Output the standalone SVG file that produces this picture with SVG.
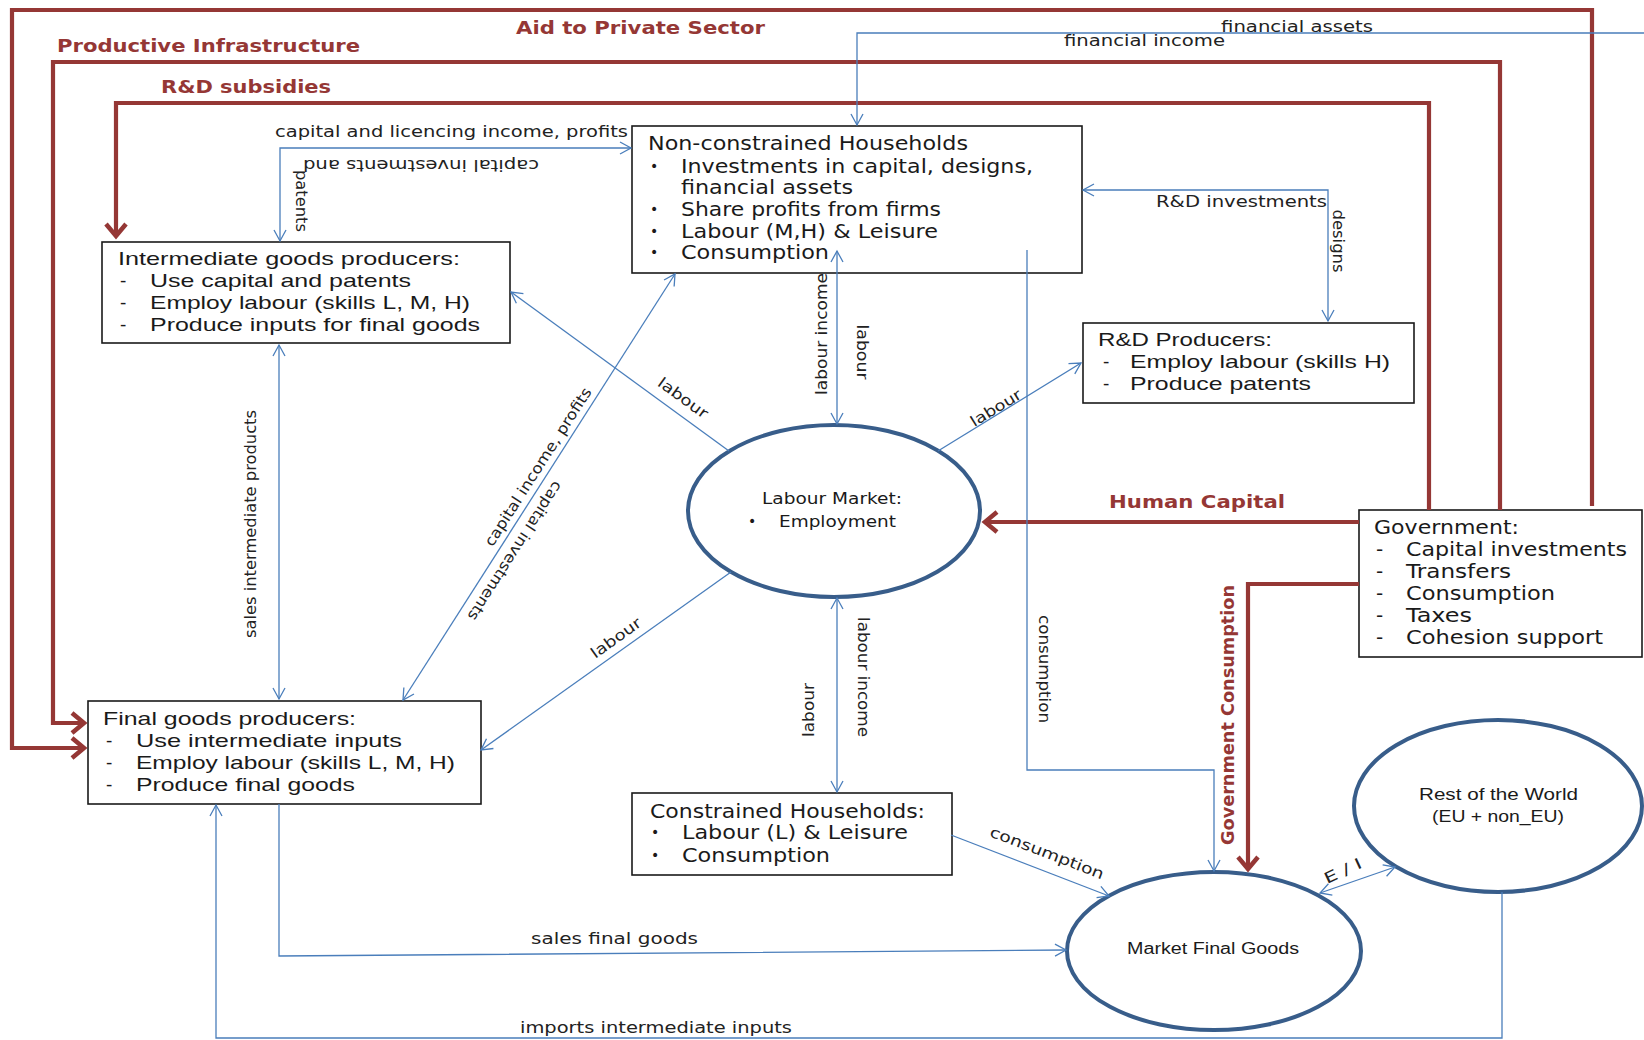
<svg xmlns="http://www.w3.org/2000/svg" width="1644" height="1040" viewBox="0 0 1644 1040">
<style>
.box{fill:#fff;stroke:#1a1a1a;stroke-width:1.6}
.ell{fill:#fff;stroke:#385D8A;stroke-width:4}
.t{font-family:"DejaVu Sans",Verdana,sans-serif;font-size:20px;fill:#1a1a1a}
.b{font-family:"DejaVu Sans",Verdana,sans-serif;font-size:14px;fill:#1a1a1a}
.c{font-family:"Liberation Sans",Arial,sans-serif;font-size:19px;fill:#1a1a1a}
.s{font-family:"DejaVu Sans",Verdana,sans-serif;font-size:15px;fill:#1a1a1a}
.sc{font-family:"Liberation Sans",Arial,sans-serif;font-size:16px;fill:#1a1a1a}
.lbl{font-family:"DejaVu Sans",Verdana,sans-serif;font-size:15px;fill:#222}
.red{font-family:"DejaVu Sans",Verdana,sans-serif;font-weight:bold;font-size:18px;fill:#953735}
.bl{fill:none;stroke:#4A7EBB;stroke-width:1.3}
.rd{fill:none;stroke:#953735;stroke-width:4.2}
</style>
<defs>
<marker id="ba" markerUnits="userSpaceOnUse" viewBox="-14 -8 16 16" markerWidth="16" markerHeight="16" refX="0" refY="0" orient="auto-start-reverse" overflow="visible">
<path d="M-11,-6 L0,0 L-11,6" fill="none" stroke="#4A7EBB" stroke-width="1.3"/>
</marker>
<marker id="ra" markerUnits="userSpaceOnUse" viewBox="-18 -14 24 28" markerWidth="24" markerHeight="28" refX="0" refY="0" orient="auto" overflow="visible">
<path d="M-12,-10 L0,0 L-12,10" fill="none" stroke="#953735" stroke-width="4.5"/>
</marker>
</defs>
<rect width="1644" height="1040" fill="#fff"/>

<g id="non-constrained-households">
<rect class="box" x="632" y="126" width="450" height="147"/>
<text class="t" x="648" y="150" textLength="320" lengthAdjust="spacingAndGlyphs">Non-constrained Households</text>
<text class="b" x="650" y="171">•</text>
<text class="t" x="681" y="173" textLength="352" lengthAdjust="spacingAndGlyphs">Investments in capital, designs,</text>
<text class="t" x="681" y="194" textLength="172" lengthAdjust="spacingAndGlyphs">financial assets</text>
<text class="b" x="650" y="214">•</text>
<text class="t" x="681" y="216" textLength="260" lengthAdjust="spacingAndGlyphs">Share profits from firms</text>
<text class="b" x="650" y="236">•</text>
<text class="t" x="681" y="238" textLength="257" lengthAdjust="spacingAndGlyphs">Labour (M,H) &amp; Leisure</text>
<text class="b" x="650" y="257">•</text>
<text class="t" x="681" y="259" textLength="148" lengthAdjust="spacingAndGlyphs">Consumption</text>
</g>

<g id="intermediate-goods-producers">
<rect class="box" x="102" y="242" width="408" height="101"/>
<text class="c" x="118" y="265" textLength="342" lengthAdjust="spacingAndGlyphs">Intermediate goods producers:</text>
<text class="c" x="120" y="287">-</text>
<text class="c" x="150" y="287" textLength="261" lengthAdjust="spacingAndGlyphs">Use capital and patents</text>
<text class="c" x="120" y="309">-</text>
<text class="c" x="150" y="309" textLength="320" lengthAdjust="spacingAndGlyphs">Employ labour (skills L, M, H)</text>
<text class="c" x="120" y="331">-</text>
<text class="c" x="150" y="331" textLength="330" lengthAdjust="spacingAndGlyphs">Produce inputs for final goods</text>
</g>

<g id="rd-producers">
<rect class="box" x="1083" y="323" width="331" height="80"/>
<text class="c" x="1098" y="346" textLength="174" lengthAdjust="spacingAndGlyphs">R&amp;D Producers:</text>
<text class="c" x="1103" y="368">-</text>
<text class="c" x="1130" y="368" textLength="260" lengthAdjust="spacingAndGlyphs">Employ labour (skills H)</text>
<text class="c" x="1103" y="390">-</text>
<text class="c" x="1130" y="390" textLength="181" lengthAdjust="spacingAndGlyphs">Produce patents</text>
</g>

<g id="government">
<rect class="box" x="1359" y="510" width="283" height="147"/>
<text class="t" x="1374" y="534" textLength="145" lengthAdjust="spacingAndGlyphs">Government:</text>
<text class="t" x="1376" y="556">-</text>
<text class="t" x="1406" y="556" textLength="221" lengthAdjust="spacingAndGlyphs">Capital investments</text>
<text class="t" x="1376" y="578">-</text>
<text class="t" x="1406" y="578" textLength="105" lengthAdjust="spacingAndGlyphs">Transfers</text>
<text class="t" x="1376" y="600">-</text>
<text class="t" x="1406" y="600" textLength="149" lengthAdjust="spacingAndGlyphs">Consumption</text>
<text class="t" x="1376" y="622">-</text>
<text class="t" x="1406" y="622" textLength="66" lengthAdjust="spacingAndGlyphs">Taxes</text>
<text class="t" x="1376" y="644">-</text>
<text class="t" x="1406" y="644" textLength="197" lengthAdjust="spacingAndGlyphs">Cohesion support</text>
</g>

<g id="final-goods-producers">
<rect class="box" x="88" y="701" width="393" height="103"/>
<text class="c" x="103" y="725" textLength="253" lengthAdjust="spacingAndGlyphs">Final goods producers:</text>
<text class="c" x="106" y="747">-</text>
<text class="c" x="136" y="747" textLength="266" lengthAdjust="spacingAndGlyphs">Use intermediate inputs</text>
<text class="c" x="106" y="769">-</text>
<text class="c" x="136" y="769" textLength="319" lengthAdjust="spacingAndGlyphs">Employ labour (skills L, M, H)</text>
<text class="c" x="106" y="791">-</text>
<text class="c" x="136" y="791" textLength="219" lengthAdjust="spacingAndGlyphs">Produce final goods</text>
</g>

<g id="constrained-households">
<rect class="box" x="632" y="793" width="320" height="82"/>
<text class="t" x="650" y="818" textLength="275" lengthAdjust="spacingAndGlyphs">Constrained Households:</text>
<text class="b" x="651" y="837">•</text>
<text class="t" x="682" y="839" textLength="226" lengthAdjust="spacingAndGlyphs">Labour (L) &amp; Leisure</text>
<text class="b" x="651" y="860">•</text>
<text class="t" x="682" y="862" textLength="148" lengthAdjust="spacingAndGlyphs">Consumption</text>
</g>

<g id="labour-market">
<ellipse class="ell" cx="834" cy="511" rx="146" ry="86"/>
<text class="s" x="762" y="504" textLength="140" lengthAdjust="spacingAndGlyphs">Labour Market:</text>
<text class="b" x="748" y="526">•</text>
<text class="s" x="779" y="527" textLength="117" lengthAdjust="spacingAndGlyphs">Employment</text>
</g>

<g id="market-final-goods">
<ellipse class="ell" cx="1214" cy="951" rx="147" ry="79"/>
<text class="sc" x="1127" y="954" textLength="172" lengthAdjust="spacingAndGlyphs">Market Final Goods</text>
</g>

<g id="rest-of-the-world">
<ellipse class="ell" cx="1498" cy="806" rx="144" ry="86"/>
<text class="sc" x="1419" y="800" textLength="159" lengthAdjust="spacingAndGlyphs">Rest of the World</text>
<text class="sc" x="1432" y="822" textLength="132" lengthAdjust="spacingAndGlyphs">(EU + non_EU)</text>
</g>

<g id="connectors">
<path class="rd" d="M1592,506 V10 H12 V748 H84" marker-end="url(#ra)"/>
<path class="rd" d="M1500,510 V62 H53 V723 H84" marker-end="url(#ra)"/>
<path class="rd" d="M1429,510 V103 H116 V236" marker-end="url(#ra)"/>
<path class="rd" d="M1359,522 H985" marker-end="url(#ra)"/>
<path class="rd" d="M1359,584 H1248 V869" marker-end="url(#ra)"/>

<path class="bl" d="M280,241 V148 H631" marker-start="url(#ba)" marker-end="url(#ba)"/>
<path class="bl" d="M1644,33 H857 V125" marker-end="url(#ba)"/>
<path class="bl" d="M1083,190 H1328 V321" marker-start="url(#ba)" marker-end="url(#ba)"/>
<path class="bl" d="M837,251 V424" marker-start="url(#ba)" marker-end="url(#ba)"/>
<path class="bl" d="M837,598 V792" marker-start="url(#ba)" marker-end="url(#ba)"/>
<path class="bl" d="M729,451 L511,292" marker-end="url(#ba)"/>
<path class="bl" d="M731,572 L481,750" marker-end="url(#ba)"/>
<path class="bl" d="M675,274 L403,700" marker-start="url(#ba)" marker-end="url(#ba)"/>
<path class="bl" d="M279,345 V699" marker-start="url(#ba)" marker-end="url(#ba)"/>
<path class="bl" d="M938,451 L1081,363" marker-end="url(#ba)"/>
<path class="bl" d="M1027,250 V770 H1214 V871" marker-end="url(#ba)"/>
<path class="bl" d="M951,835 L1109,896" marker-end="url(#ba)"/>
<path class="bl" d="M279,804 V956 L1066,950" marker-end="url(#ba)"/>
<path class="bl" d="M1502,892 V1038 H216 V805" marker-end="url(#ba)"/>
<path class="bl" d="M1320,893 L1395,867" marker-start="url(#ba)" marker-end="url(#ba)"/>

<text class="red" x="516" y="34" textLength="249" lengthAdjust="spacingAndGlyphs">Aid to Private Sector</text>
<text class="red" x="57" y="52" textLength="303" lengthAdjust="spacingAndGlyphs">Productive Infrastructure</text>
<text class="red" x="161" y="93" textLength="170" lengthAdjust="spacingAndGlyphs">R&amp;D subsidies</text>
<text class="red" x="1109" y="508" textLength="176" lengthAdjust="spacingAndGlyphs">Human  Capital</text>
<text class="red" x="1228" y="721" text-anchor="middle" textLength="260" lengthAdjust="spacingAndGlyphs" transform="rotate(-90 1228 715)">Government  Consumption</text>

<text class="lbl" x="275" y="137" textLength="353" lengthAdjust="spacingAndGlyphs">capital and licencing income, profits</text>
<text class="lbl" x="421" y="170" text-anchor="middle" textLength="236" lengthAdjust="spacingAndGlyphs" transform="rotate(180 421 165)">capital investments and</text>
<text class="lbl" x="301" y="206" text-anchor="middle" textLength="62" lengthAdjust="spacingAndGlyphs" transform="rotate(90 301 201)">patents</text>
<text class="lbl" x="1064" y="46" textLength="161" lengthAdjust="spacingAndGlyphs">financial income</text>
<text class="lbl" x="1221" y="32" textLength="152" lengthAdjust="spacingAndGlyphs">financial assets</text>
<text class="lbl" x="1156" y="207" textLength="171" lengthAdjust="spacingAndGlyphs">R&amp;D investments</text>
<text class="lbl" x="1338" y="246" text-anchor="middle" textLength="63" lengthAdjust="spacingAndGlyphs" transform="rotate(90 1338 241)">designs</text>
<text class="lbl" x="822" y="339" text-anchor="middle" textLength="122" lengthAdjust="spacingAndGlyphs" transform="rotate(-90 822 334)">labour income</text>
<text class="lbl" x="862" y="357" text-anchor="middle" textLength="55" lengthAdjust="spacingAndGlyphs" transform="rotate(90 862 352)">labour</text>
<text class="lbl" x="809" y="715" text-anchor="middle" textLength="54" lengthAdjust="spacingAndGlyphs" transform="rotate(-90 809 710)">labour</text>
<text class="lbl" x="863" y="682" text-anchor="middle" textLength="120" lengthAdjust="spacingAndGlyphs" transform="rotate(90 863 677)">labour income</text>
<text class="lbl" x="251" y="529" text-anchor="middle" textLength="228" lengthAdjust="spacingAndGlyphs" transform="rotate(-90 251 524)">sales intermediate products</text>
<text class="lbl" x="683" y="403" text-anchor="middle" textLength="58" lengthAdjust="spacingAndGlyphs" transform="rotate(36.1 683 398)">labour</text>
<text class="lbl" x="616" y="643" text-anchor="middle" textLength="58" lengthAdjust="spacingAndGlyphs" transform="rotate(-35.5 616 638)">labour</text>
<text class="lbl" x="538" y="472" text-anchor="middle" textLength="185" lengthAdjust="spacingAndGlyphs" transform="rotate(-57.4 538 467)">capital income, profits</text>
<text class="lbl" x="515" y="556" text-anchor="middle" textLength="162" lengthAdjust="spacingAndGlyphs" transform="rotate(122.6 515 551)">capital investments</text>
<text class="lbl" x="996" y="413" text-anchor="middle" textLength="57" lengthAdjust="spacingAndGlyphs" transform="rotate(-31.6 996 408)">labour</text>
<text class="lbl" x="1044" y="674" text-anchor="middle" textLength="108" lengthAdjust="spacingAndGlyphs" transform="rotate(90 1044 669)">consumption</text>
<text class="lbl" x="1047" y="858" text-anchor="middle" textLength="121" lengthAdjust="spacingAndGlyphs" transform="rotate(21.1 1047 853)">consumption</text>
<text class="lbl" x="531" y="944" textLength="167" lengthAdjust="spacingAndGlyphs">sales final goods</text>
<text class="lbl" x="520" y="1033" textLength="272" lengthAdjust="spacingAndGlyphs">imports intermediate inputs</text>
<text class="lbl" x="1343" y="876" text-anchor="middle" textLength="40" lengthAdjust="spacingAndGlyphs" transform="rotate(-25 1343 871)">E / I</text>
</g>
</svg>
